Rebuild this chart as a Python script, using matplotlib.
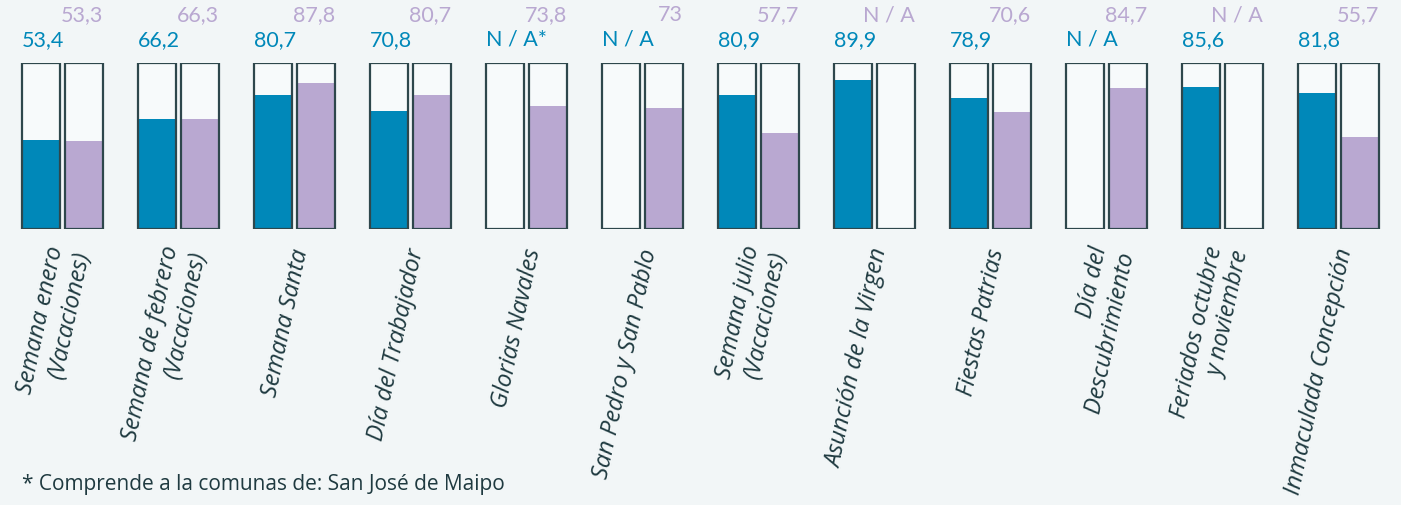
import numpy as np
import matplotlib.pyplot as plt

# Data (None = N/A)
categories = [
    "Semana enero\n(Vacaciones)",
    "Semana de febrero\n(Vacaciones)",
    "Semana Santa",
    "Día del Trabajador",
    "Glorias Navales",
    "San Pedro y San Pablo",
    "Semana julio\n(Vacaciones)",
    "Asunción de la Virgen",
    "Fiestas Patrias",
    "Día del\nDescubrimiento",
    "Feriados octubre\ny noviembre",
    "Inmaculada Concepción",
]
serie_azul = [53.4, 66.2, 80.7, 70.8, None, None, 80.9, 89.9, 78.9, None, 85.6, 81.8]
serie_lila = [53.3, 66.3, 87.8, 80.7, 73.8, 73.0, 57.7, None, 70.6, 84.7, None, 55.7]
etiqueta_azul = ["53,4", "66,2", "80,7", "70,8", "N / A*", "N / A", "80,9", "89,9",
                 "78,9", "N / A", "85,6", "81,8"]
etiqueta_lila = ["53,3", "66,3", "87,8", "80,7", "73,8", "73", "57,7", "N / A",
                 "70,6", "84,7", "N / A", "55,7"]
nota = "* Comprende a la comunas de: San José de Maipo"

AZUL = "#0088b9"
LILA = "#b9a8d1"
BORDE = "#2e474c"
FONDO = "#f2f6f7"
CAJA = "#f7fafb"
TEXTO = "#1f3a40"

fig = plt.figure(figsize=(14.01, 5.06), dpi=100, facecolor=FONDO)
ax = fig.add_axes([0, 1 - 230 / 506, 1, 166 / 506])
ax.set_facecolor(FONDO)

x = np.arange(len(categories))
off = 21.5 / 116
w = 38 / 116

for vals, labels, pos, color, ha, ly, ex in [
    (serie_azul, etiqueta_azul, x - off, AZUL, "left", 114.5, -w / 2),
    (serie_lila, etiqueta_lila, x + off, LILA, "right", 129.5, w / 2),
]:
    ax.bar(pos, 100, w, color=CAJA, zorder=1)
    v = [0 if a is None else a for a in vals]
    ax.bar(pos, v, w, color=color, zorder=2)
    ax.bar(pos, 100, w, fill=False, edgecolor=BORDE, linewidth=1.6, zorder=3)
    for p, t in zip(pos, labels):
        ax.text(p + ex, ly, t, ha=ha, va="center", color=color, fontsize=15.5,
                family="Lato", clip_on=False)

for i, c in enumerate(categories):
    ax.text(x[i] + 0.06, -11.5, c, rotation=78, rotation_mode="anchor",
            ha="right", va="center", multialignment="right", style="italic",
            fontsize=17, family="Open Sans", color=TEXTO, clip_on=False)

ax.set_xlim(-62.5 / 116, (1401 - 62.5) / 116)
ax.set_ylim(0, 100)
ax.axis("off")

fig.text(22 / 1401, 1 - 485 / 506, nota, ha="left", va="center", fontsize=15,
         family="Open Sans", color=TEXTO)

fig.savefig("out.png", dpi=100, facecolor=FONDO)
